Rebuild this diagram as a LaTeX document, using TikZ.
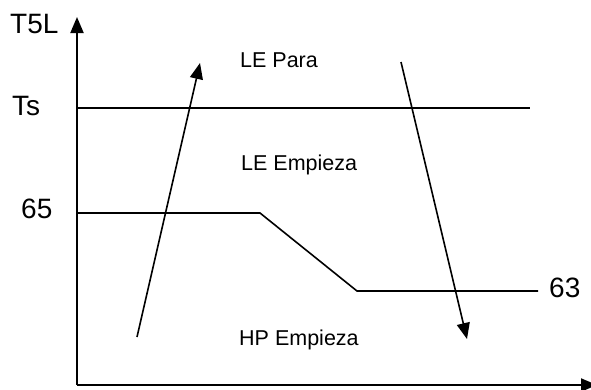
\documentclass[tikz,border=0pt]{standalone}
\usepackage{fontspec}
\setmainfont{Liberation Sans}
\usetikzlibrary{arrows.meta}
\begin{document}
\begin{tikzpicture}[x=1bp,y=-1bp,
  axis/.style={line width=2bp,-{Triangle[width=13bp,length=16bp]}},
  level/.style={line width=1.6bp},
  trend/.style={line width=1.6bp,-{Triangle[width=13bp,length=16bp]}},
  small/.style={font=\fontsize{21.5bp}{24bp}\selectfont,anchor=base west,inner sep=0pt},
  big/.style={font=\fontsize{28bp}{32bp}\selectfont,anchor=base west,inner sep=0pt}]
\useasboundingbox (0,0) rectangle (591,389);
% axes
\coordinate (O) at (77,385);
\coordinate (ytop) at (77,17);
\coordinate (xend) at (597,385);
\draw[axis] (O) -- (ytop);
\draw[axis] (O) -- (xend);
% Ts line
\coordinate (ts1) at (77,108);
\coordinate (ts2) at (530,108);
\draw[level] (ts1) -- (ts2);
% profile
\coordinate (p1) at (77,213);
\coordinate (p2) at (260,213);
\coordinate (p3) at (357,291);
\coordinate (p4) at (538,291);
\draw[level] (p1) -- (p2) -- (p3) -- (p4);
% trend arrows
\coordinate (u1) at (137,337);
\coordinate (u2) at (200,63);
\draw[trend] (u1) -- (u2);
\coordinate (d1) at (401,62);
\coordinate (d2) at (467,339);
\draw[trend] (d1) -- (d2);
% labels
\node[big] (lT5L) at (10,33) {T5L};
\node[big] (lTs) at (12,115) {Ts};
\node[big] (l65) at (21,218) {65};
\node[big] (l63) at (549,297) {63};
\node[small] (lpara) at (240,67) {LE Para};
\node[small] (lemp) at (241,170) {LE Empieza};
\node[small] (lhp) at (239,345) {HP Empieza};
\end{tikzpicture}
\end{document}
